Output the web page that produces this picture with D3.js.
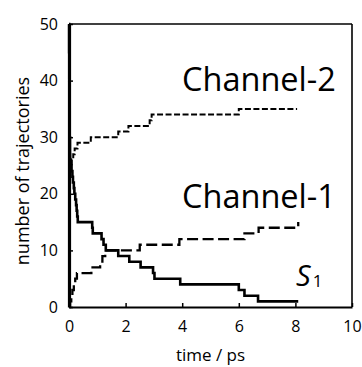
<!DOCTYPE html>
<html>
<head>
<meta charset="utf-8">
<script src="https://cdn.jsdelivr.net/npm/d3@7"></script>
<style>
  body { margin: 0; background: #fff; }
  svg { display: block; font-family: "Open Sans", sans-serif; }
</style>
</head>
<body>
<svg id="chart" width="362" height="367"></svg>
<script>
// ---- data ----
var xTicks = [0, 2, 4, 6, 8, 10];
var yTicks = [0, 10, 20, 30, 40, 50];

var s1Time  = [0, 0.005, 0.01, 0.015, 0.025, 0.035, 0.04, 0.06, 0.09, 0.12, 0.14, 0.17, 0.19, 0.22, 0.25, 0.27, 0.29, 0.31, 0.82, 0.84, 1.15, 1.22, 1.3, 1.74, 2.13, 2.53, 2.97, 3.02, 3.93, 6.0, 6.2, 6.68, 8.1];
var s1Count = [50, 45, 40, 35, 30, 27, 26, 25, 24, 23, 22, 21, 20, 19, 18, 17, 16, 15, 14, 13, 12, 11, 10, 9, 8, 7, 6, 5, 4, 3, 2, 1, 1];

var ch1Time  = [0, 0.04, 0.08, 0.12, 0.17, 0.22, 0.28, 0.79, 1.1, 1.18, 1.28, 2.5, 3.9, 6.2, 6.7, 8.1];
var ch1Count = [0, 1, 2, 3, 4, 5, 6, 7, 8, 9, 10, 11, 12, 13, 14, 15];

var ch2Time  = [0, 0.005, 0.01, 0.015, 0.025, 0.04, 0.06, 0.1, 0.15, 0.2, 0.3, 0.77, 1.74, 2.1, 2.85, 2.92, 6.0, 8.06];
var ch2Count = [0, 8, 16, 20, 23, 24, 25, 26, 27, 28, 29, 30, 31, 32, 33, 34, 35, 35];

var svg = d3.select("svg#chart"),
  margin = { top: 24, right: 10, bottom: 60, left: 69 },
  width = +svg.attr("width") - margin.left - margin.right,
  height = +svg.attr("height") - margin.top - margin.bottom,
  g = svg.append("g")
    .attr("transform", "translate(" + margin.left + "," + margin.top + ")");

var x = d3.scaleLinear().domain([0, 10]).range([0, width]);
var y = d3.scaleLinear().domain([0, 50]).range([height, 0]);

var line = d3.line()
  .x(function (d) { return x(d[0]); })
  .y(function (d) { return y(d[1]); })
  .curve(d3.curveStepAfter);

// frame (top and right)
g.append("line")
  .attr("x1", 0).attr("x2", width).attr("y1", 0).attr("y2", 0)
  .attr("stroke", "#000").attr("stroke-width", 1.3);
g.append("line")
  .attr("x1", width).attr("x2", width).attr("y1", 0).attr("y2", height)
  .attr("stroke", "#000").attr("stroke-width", 1.6);

// series
g.append("path")
  .datum(d3.zip(ch2Time, ch2Count))
  .attr("fill", "none").attr("stroke", "#000")
  .attr("stroke-width", 2).attr("stroke-dasharray", "6,2.5")
  .attr("d", line);

g.append("path")
  .datum(d3.zip(ch1Time, ch1Count))
  .attr("fill", "none").attr("stroke", "#000")
  .attr("stroke-width", 2.3).attr("stroke-dasharray", "11,4.5")
  .attr("d", line);

g.append("path")
  .datum(d3.zip(s1Time, s1Count))
  .attr("fill", "none").attr("stroke", "#000")
  .attr("stroke-width", 2.6)
  .attr("d", line);

// axes
var xAxis = g.append("g")
  .attr("transform", "translate(0," + height + ")")
  .call(d3.axisBottom(x).tickValues(xTicks).tickSizeInner(-4).tickSizeOuter(0).tickPadding(14));
xAxis.select(".domain").attr("stroke-width", 2.2);
xAxis.selectAll(".tick line").attr("stroke-width", 1.5);
xAxis.selectAll("text")
  .attr("font-family", "Open Sans").attr("font-size", 16).attr("fill", "#000");

var yAxis = g.append("g")
  .call(d3.axisLeft(y).tickValues(yTicks).tickSizeInner(-4).tickSizeOuter(0).tickPadding(11));
yAxis.select(".domain").attr("stroke-width", 3.2);
yAxis.selectAll(".tick line").attr("stroke-width", 1.5);
yAxis.selectAll("text")
  .attr("font-family", "Open Sans").attr("font-size", 16).attr("fill", "#000");

// axis titles
svg.append("text")
  .attr("x", margin.left + width / 2)
  .attr("y", 361)
  .attr("text-anchor", "middle")
  .attr("font-size", 17)
  .text("time / ps");

svg.append("text")
  .attr("transform", "translate(29," + 171 + ") rotate(-90)")
  .attr("text-anchor", "middle")
  .attr("font-size", 18)
  .text("number of trajectories");

// curve labels
svg.append("text")
  .attr("x", 182).attr("y", 91)
  .attr("font-size", 32.5)
  .text("Channel-2");

svg.append("text")
  .attr("x", 182).attr("y", 208)
  .attr("font-size", 32.5)
  .text("Channel-1");

var s1 = svg.append("text")
  .attr("x", 296).attr("y", 286)
  .attr("font-size", 29);
s1.append("tspan").attr("font-style", "italic").text("S");
s1.append("tspan").attr("font-size", 17).attr("dx", 2).attr("dy", 1).text("1");
</script>
</body>
</html>
